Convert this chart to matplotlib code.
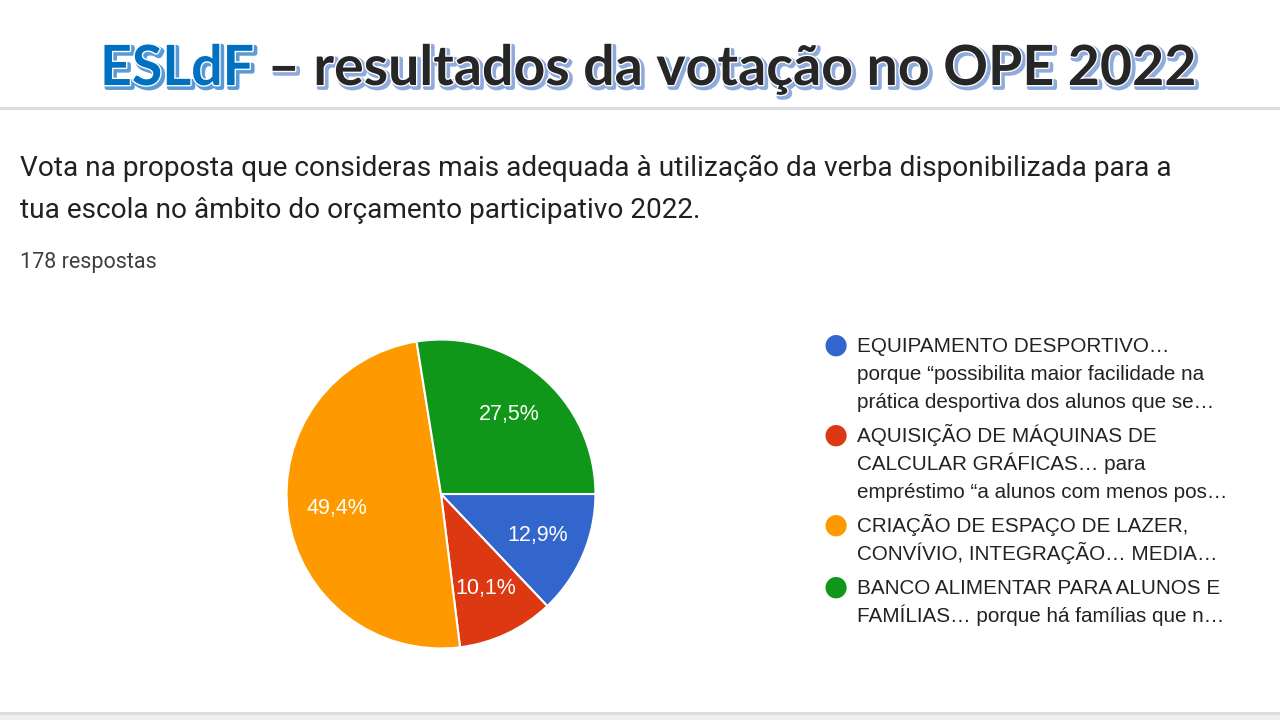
import matplotlib
matplotlib.use("Agg")
import matplotlib.pyplot as plt
import matplotlib.patheffects as pe
from matplotlib.patches import Rectangle

# data
options = [
    "EQUIPAMENTO DESPORTIVO…\nporque “possibilita maior facilidade na\nprática desportiva dos alunos que se…",
    "AQUISIÇÃO DE MÁQUINAS DE\nCALCULAR GRÁFICAS… para\nempréstimo “a alunos com menos pos…",
    "CRIAÇÃO DE ESPAÇO DE LAZER,\nCONVÍVIO, INTEGRAÇÃO… MEDIA…",
    "BANCO ALIMENTAR PARA ALUNOS E\nFAMÍLIAS… porque há famílias que n…",
]
votes = [23, 18, 88, 49]
colors = ["#3366cc", "#dc3912", "#ff9900", "#109618"]

title_brand = "ESLdF"
title_rest = " – resultados da votação no OPE 2022"
question = ["Vota na proposta que consideras mais adequada à utilização da verba disponibilizada para a",
            "tua escola no âmbito do orçamento participativo 2022."]
total_label = f"{sum(votes)} respostas"

W, H = 1280, 720
fig = plt.figure(figsize=(W / 100, H / 100), dpi=100)
fig.patch.set_facecolor("white")


def fx(px):
    return px / W


def fy(py):
    return 1 - py / H


# separator lines
fig.add_artist(Rectangle((0, fy(110)), 1, 3 / H, transform=fig.transFigure,
                         color="#dadce0", lw=0))
fig.add_artist(Rectangle((0, 0), 1, fy(712), transform=fig.transFigure,
                         color="#eeeeee", lw=0))
fig.add_artist(Rectangle((0, fy(715)), 1, 3 / H, transform=fig.transFigure,
                         color="#dadce0", lw=0))


def title_effects(shadow):
    # shadow offset to the lower right, thin white rim, then the fill
    return [pe.Stroke(offset=(1.8, -1.8), linewidth=3.5, foreground=shadow),
            pe.Stroke(linewidth=2, foreground="white"),
            pe.Normal()]


# title in two colours, sized so that it spans x 100..1195
title_kw = dict(fontweight="bold", family="Lato", va="baseline")
probe = fig.text(0, 0, title_brand + title_rest, fontsize=49, **title_kw)
fig.canvas.draw()
tsize = 49 * 1095 / probe.get_window_extent().width
probe.remove()

brand = fig.text(fx(100), fy(85), title_brand, fontsize=tsize, color="#0070c0",
                 path_effects=title_effects("#5b9bd5"), **title_kw)
fig.canvas.draw()
bb = brand.get_window_extent()
fig.text(bb.x1 / W, fy(85), title_rest, fontsize=tsize, color="#262626",
         path_effects=title_effects("#8faadc"), **title_kw)

for i, line in enumerate(question):
    fig.text(fx(20), fy(176 + 42 * i), line, fontsize=20.2, family="Roboto",
             color="#202124", va="baseline")
fig.text(fx(20), fy(268), total_label, fontsize=15.5, family="Roboto", color="#3c4043",
         va="baseline")

# pie
cx, cy, r = 441, 494, 156
ax = fig.add_axes([fx(cx - r), fy(cy + r), 2 * r / W, 2 * r / H])
wedges, texts, autotexts = ax.pie(
    votes, colors=colors, startangle=0, counterclock=False,
    autopct=lambda p: f"{p:.1f}%".replace(".", ","), pctdistance=0.68,
    wedgeprops=dict(edgecolor="white", linewidth=1.5),
    textprops=dict(color="white", fontsize=15.5, family="Liberation Sans"),
)
ax.set_xlim(-1.01, 1.01)
ax.set_ylim(-1.01, 1.01)
ax.set_aspect("equal")
ax.axis("off")

# legend drawn by hand so the dot sits on the first line
y = 345
for label, col in zip(options, colors):
    fig.text(fx(836), fy(y), "●", fontsize=20, color=col, ha="center", va="center",
             family="DejaVu Sans")
    lines = label.split("\n")
    for j, line in enumerate(lines):
        fig.text(fx(857), fy(y + 7 + 28 * j), line, fontsize=14.9,
                 family="Liberation Sans", color="#222222", va="baseline", ha="left")
    y += 28 * len(lines) + 6

fig.savefig("out.png", dpi=100)
